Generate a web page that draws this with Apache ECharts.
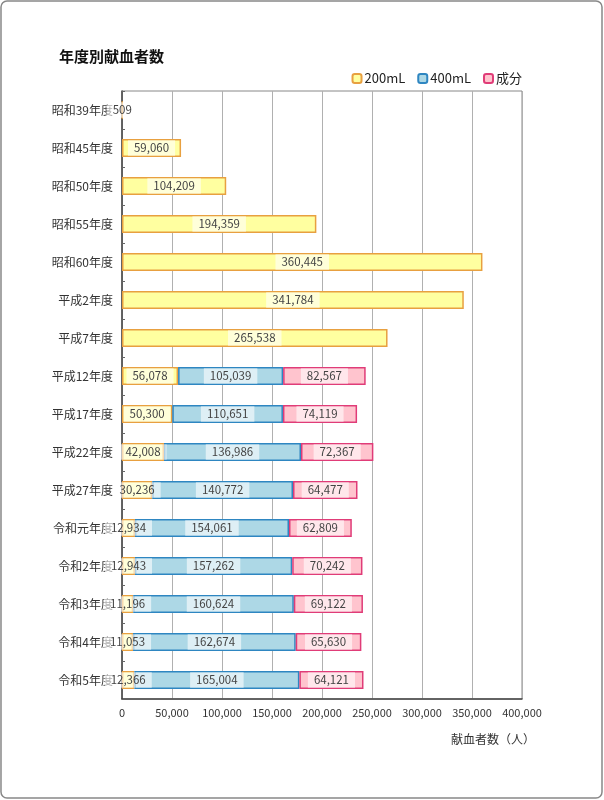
<!DOCTYPE html>
<html>
<head>
<meta charset="utf-8">
<script src="https://cdn.jsdelivr.net/npm/echarts@6/dist/echarts.min.js"></script>
<style>
  html, body { margin: 0; padding: 0; background: #fff; }
  #chart { width: 604px; height: 800px; }
</style>
</head>
<body>
<div id="chart"></div>
<script>
const years = [
  "昭和39年度", "昭和45年度", "昭和50年度", "昭和55年度", "昭和60年度",
  "平成2年度", "平成7年度", "平成12年度", "平成17年度", "平成22年度",
  "平成27年度", "令和元年度", "令和2年度", "令和3年度", "令和4年度", "令和5年度"
];
const ml200 = [509, 59060, 104209, 194359, 360445, 341784, 265538, 56078, 50300, 42008, 30236, 12934, 12943, 11196, 11053, 12366];
const ml400 = ["-", "-", "-", "-", "-", "-", "-", 105039, 110651, 136986, 140772, 154061, 157262, 160624, 162674, 165004];
const component = ["-", "-", "-", "-", "-", "-", "-", 82567, 74119, 72367, 64477, 62809, 70242, 69122, 65630, 64121];
const xTicks = [0, 50000, 100000, 150000, 200000, 250000, 300000, 350000, 400000];

const font = "'Noto Sans CJK JP', sans-serif";

function barSeries(name, data, fill, border) {
  return {
    name: name,
    type: "bar",
    stack: "total",
    data: data,
    barWidth: 18,
    itemStyle: { color: fill, borderColor: border, borderWidth: 1.5 },
    label: {
      show: true,
      position: "inside",
      color: "#444",
      fontFamily: font,
      fontSize: 11.5,
      backgroundColor: "rgba(255,255,255,0.6)",
      padding: [2, 6],
      formatter: (p) => p.value.toLocaleString("en-US"),
    },
  };
}

window.addEventListener("DOMContentLoaded", function () {
  const chart = echarts.init(document.getElementById("chart"));

  const options = {
    animation: false,
    textStyle: { fontFamily: font },
    title: {
      text: "年度別献血者数",
      left: 54,
      top: 44,
      textStyle: { fontSize: 15, fontWeight: "bold", color: "#111", fontFamily: font },
    },
    legend: {
      right: 77,
      top: 67,
      itemWidth: 9,
      itemHeight: 9,
      itemGap: 12,
      textStyle: { fontSize: 13, color: "#222", fontFamily: font, padding: [0, 0, 0, -2] },
      data: ["200mL", "400mL", "成分"],
    },
    grid: { left: 122, right: 82, top: 91, bottom: 101, containLabel: false },
    xAxis: {
      type: "value",
      min: xTicks[0],
      max: xTicks[xTicks.length - 1],
      interval: 50000,
      name: "献血者数（人）",
      nameLocation: "end",
      nameGap: 13,
      nameTextStyle: {
        align: "right",
        verticalAlign: "top",
        padding: [34, 0, 0, 0],
        fontSize: 12,
        color: "#333",
      },
      axisLine: { show: true, lineStyle: { color: "#444", width: 1.5 } },
      axisTick: { show: false },
      axisLabel: {
        fontSize: 11,
        color: "#333",
        margin: 8,
        formatter: (v) => v.toLocaleString("en-US"),
      },
      splitLine: { show: true, lineStyle: { color: "#b0b0b0", width: 1 } },
    },
    yAxis: {
      type: "category",
      data: years,
      inverse: true,
      axisLine: { show: true, lineStyle: { color: "#444", width: 1.5 } },
      axisTick: { show: true, inside: true, length: 3, lineStyle: { color: "#666" } },
      axisLabel: { fontSize: 12, color: "#333", margin: 9 },
    },
    series: [
      barSeries("200mL", ml200, "#FFFFA0", "#E8A040"),
      barSeries("400mL", ml400, "#ADD8E6", "#2E86C1"),
      barSeries("成分", component, "#FFC4CE", "#E03C78"),
    ],
    graphic: [
      {
        type: "rect",
        shape: { x: 122, y: 91, width: 400, height: 608 },
        style: { fill: "none", stroke: "#888", lineWidth: 1 },
        silent: true,
      },
      {
        type: "rect",
        shape: { x: 1, y: 1, width: 601, height: 797, r: 6 },
        style: { fill: "none", stroke: "#888", lineWidth: 1.5 },
        silent: true,
      },
    ],
  };

  chart.setOption(options);
});
</script>
</body>
</html>
